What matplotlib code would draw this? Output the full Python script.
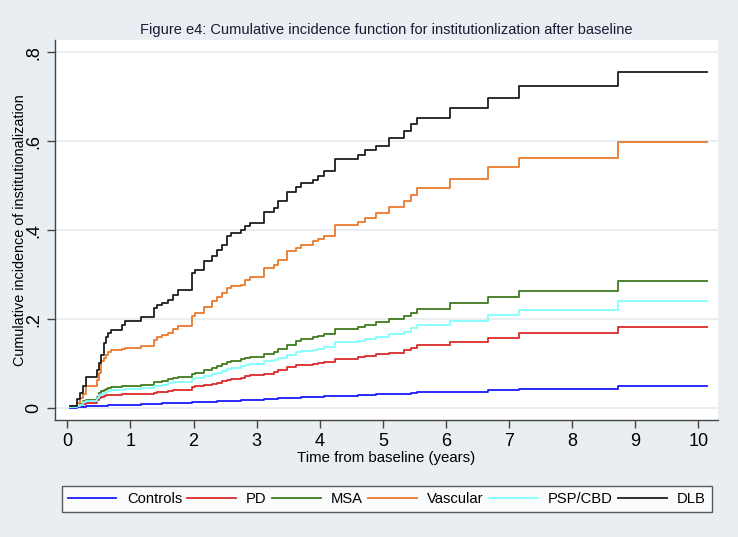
import matplotlib.pyplot as plt

plt.rcParams['font.family'] = ['Liberation Sans', 'DejaVu Sans']

# step times (years) shared by all groups
times = [0.04, 0.16, 0.20, 0.25, 0.30, 0.47, 0.50, 0.54, 0.58, 0.62, 0.65, 0.70,
         0.86, 0.92, 1.17, 1.38, 1.42, 1.50, 1.60, 1.68, 1.76, 1.97, 2.02, 2.16,
         2.29, 2.37, 2.45, 2.53, 2.60, 2.76, 2.81, 2.89, 3.12, 3.27, 3.34, 3.48,
         3.63, 3.71, 3.90, 3.98, 4.06, 4.24, 4.61, 4.72, 4.89, 5.09, 5.34, 5.44,
         5.54, 6.07, 6.67, 7.15, 8.72, 10.14]

controls = [0.001, 0.002, 0.003, 0.003, 0.004, 0.005, 0.005, 0.006, 0.006, 0.006, 0.007, 0.007,
            0.007, 0.008, 0.009, 0.010, 0.010, 0.011, 0.011, 0.012, 0.012, 0.013, 0.014, 0.015,
            0.015, 0.016, 0.016, 0.017, 0.017, 0.018, 0.019, 0.019, 0.020, 0.021, 0.022, 0.023,
            0.024, 0.025, 0.026, 0.026, 0.027, 0.028, 0.029, 0.030, 0.031, 0.032, 0.033, 0.034,
            0.036, 0.037, 0.041, 0.044, 0.049, 0.049]

pd_ = [0.002, 0.004, 0.007, 0.010, 0.012, 0.019, 0.024, 0.026, 0.028, 0.029, 0.030, 0.030,
       0.031, 0.032, 0.033, 0.035, 0.036, 0.037, 0.039, 0.040, 0.042, 0.047, 0.049, 0.052,
       0.055, 0.057, 0.061, 0.064, 0.066, 0.069, 0.072, 0.075, 0.078, 0.081, 0.086, 0.092,
       0.096, 0.097, 0.100, 0.101, 0.103, 0.111, 0.115, 0.118, 0.121, 0.125, 0.130, 0.135,
       0.141, 0.149, 0.157, 0.169, 0.183, 0.183]

msa = [0.003, 0.005, 0.010, 0.016, 0.019, 0.026, 0.034, 0.038, 0.041, 0.044, 0.046, 0.048,
       0.050, 0.051, 0.053, 0.058, 0.060, 0.062, 0.065, 0.067, 0.070, 0.076, 0.079, 0.085,
       0.090, 0.094, 0.099, 0.104, 0.107, 0.110, 0.113, 0.116, 0.122, 0.126, 0.132, 0.143,
       0.152, 0.155, 0.160, 0.163, 0.166, 0.178, 0.183, 0.188, 0.194, 0.200, 0.207, 0.215,
       0.223, 0.236, 0.251, 0.264, 0.286, 0.286]

vascular = [0.004, 0.012, 0.022, 0.032, 0.049, 0.064, 0.079, 0.105, 0.112, 0.120, 0.126, 0.131,
            0.133, 0.135, 0.140, 0.154, 0.161, 0.165, 0.170, 0.178, 0.184, 0.207, 0.213, 0.228,
            0.240, 0.251, 0.258, 0.270, 0.275, 0.277, 0.288, 0.294, 0.315, 0.321, 0.333, 0.354,
            0.360, 0.367, 0.375, 0.381, 0.387, 0.412, 0.419, 0.427, 0.438, 0.452, 0.466, 0.479,
            0.494, 0.516, 0.541, 0.563, 0.599, 0.599]

psp = [0.002, 0.004, 0.008, 0.013, 0.016, 0.022, 0.029, 0.033, 0.035, 0.037, 0.039, 0.040,
       0.042, 0.043, 0.046, 0.050, 0.051, 0.053, 0.056, 0.058, 0.060, 0.065, 0.068, 0.073,
       0.077, 0.080, 0.084, 0.088, 0.091, 0.094, 0.097, 0.100, 0.105, 0.108, 0.112, 0.120,
       0.126, 0.128, 0.131, 0.134, 0.137, 0.148, 0.152, 0.156, 0.161, 0.166, 0.172, 0.180,
       0.186, 0.197, 0.210, 0.221, 0.241, 0.241]

dlb = [0.005, 0.020, 0.035, 0.050, 0.071, 0.086, 0.101, 0.120, 0.146, 0.161, 0.170, 0.175,
       0.187, 0.195, 0.204, 0.225, 0.232, 0.236, 0.243, 0.255, 0.266, 0.303, 0.311, 0.330,
       0.341, 0.356, 0.367, 0.386, 0.393, 0.401, 0.410, 0.417, 0.440, 0.449, 0.466, 0.487,
       0.498, 0.506, 0.513, 0.522, 0.532, 0.560, 0.569, 0.580, 0.590, 0.607, 0.622, 0.638,
       0.653, 0.674, 0.698, 0.723, 0.755, 0.755]

labels = ['Controls', 'PD', 'MSA', 'Vascular', 'PSP/CBD', 'DLB']
colors = ['#1a1aff', '#dc2a2a', '#3f7a1e', '#e87a2c', '#80ffff', '#1e1e1e']

xticks = list(range(0, 11))
yticks = [0, 0.2, 0.4, 0.6, 0.8]
ytick_labels = ['0', '.2', '.4', '.6', '.8']

bg = '#e8eef1'
fig = plt.figure(figsize=(7.38, 5.37), dpi=100, facecolor=bg)
ax = fig.add_axes([55 / 738, 1 - 420 / 537, 663 / 738, 380 / 537])
ax.set_facecolor('white')

for ys, lab, col in zip([controls, pd_, msa, vascular, psp, dlb], labels, colors):
    ax.step(times, ys, where='post', color=col, lw=1.3, label=lab)

ax.set_xlim(-0.195, 10.31)
ax.set_ylim(-0.0265, 0.8275)
ax.set_xticks(xticks)
ax.set_yticks(yticks)
ax.set_yticklabels(ytick_labels)
ax.grid(axis='y', color='#e4ebef', lw=1.2)
ax.set_axisbelow(True)

for s in ['top', 'right']:
    ax.spines[s].set_visible(False)
for s in ['left', 'bottom']:
    ax.spines[s].set_color('#444444')
    ax.spines[s].set_linewidth(1.0)

ax.tick_params(axis='both', length=6, width=1.0, color='#444444', labelsize=13, pad=3)
ax.tick_params(axis='y', labelrotation=90)
for lab in ax.get_yticklabels():
    lab.set_va('center')

ax.set_xlabel('Time from baseline (years)', fontsize=10.8, labelpad=1)
ax.set_ylabel('Cumulative incidence of institutionalization', fontsize=10.4, labelpad=-1)
ax.set_title('Figure e4: Cumulative incidence function for institutionlization after baseline',
             fontsize=10.5, color='#1a1a33', pad=4)

leg = fig.legend(loc='lower left', bbox_to_anchor=(62 / 738, 1 - 512 / 537, 650 / 738, 35 / 537),
                 mode='expand', ncol=6, fontsize=10.6, handlelength=3.3, handletextpad=0.7,
                 columnspacing=0.3, frameon=True, fancybox=False, borderaxespad=0)
leg.get_frame().set_edgecolor('#333333')
leg.get_frame().set_linewidth(1.0)
leg.get_frame().set_facecolor('white')

fig.savefig('out.png', dpi=100, facecolor=bg)
